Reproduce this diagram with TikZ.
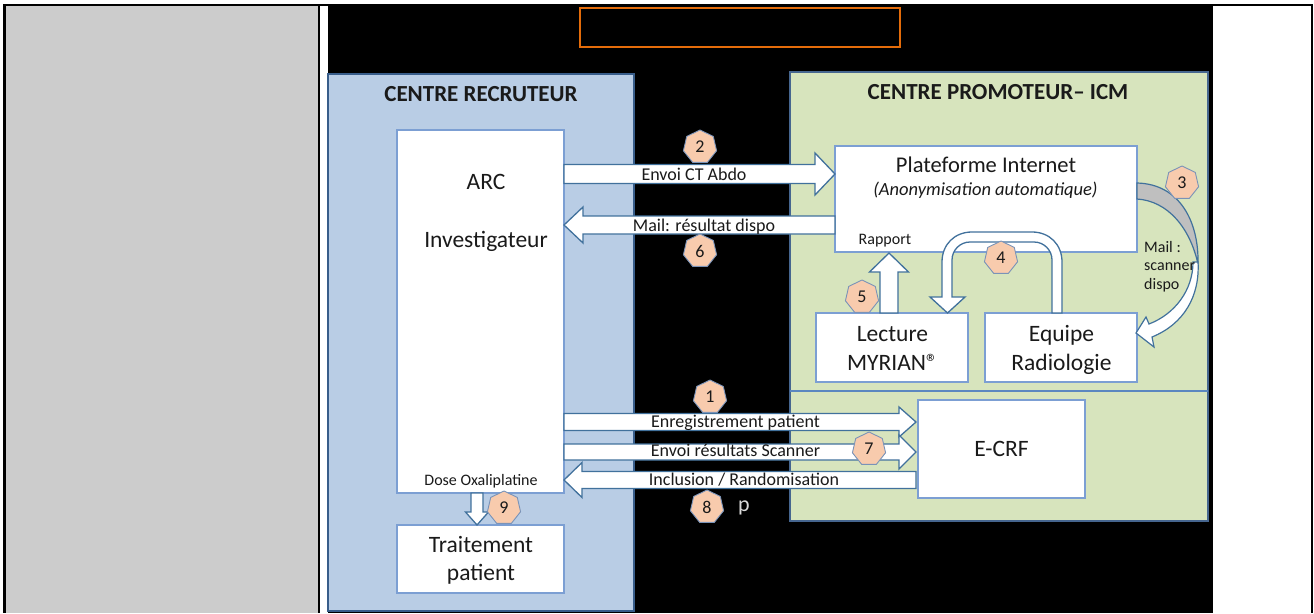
\documentclass[tikz,border=0pt]{standalone}
\usepackage{fontspec}
\setmainfont{Carlito}
\usetikzlibrary{shapes.geometric,calc}
\definecolor{cellgrey}{HTML}{CCCCCC}
\definecolor{peach}{HTML}{F8CBAD}
\definecolor{badgeborder}{HTML}{7A93B8}
\definecolor{arrowblue}{HTML}{41719C}
\definecolor{boxblue}{HTML}{7C9FD3}
\definecolor{bluefill}{HTML}{B9CDE5}
\definecolor{blueborder}{HTML}{385D8A}
\definecolor{greenfill}{HTML}{D7E4BD}
\definecolor{greenborder}{HTML}{46668F}
\definecolor{divline}{HTML}{5B87C0}
\definecolor{orangeline}{HTML}{E46C0A}
\definecolor{txt}{HTML}{1A1A1A}
\definecolor{bandgrey}{HTML}{BFBFBF}
\newcommand{\fs}[1]{\fontsize{#1}{#1}\selectfont}
% horizontal block arrow: #1 start, #2 tip, #3 half shaft, #4 half head, #5 head length (negative = pointing left)
\newcommand{\blockH}[5]{%
  \draw[blk] let \p1=(#1), \p2=(#2) in
    (\x1,{\y1+(#3)*1pt}) -- ({\x2-(#5)*1pt},{\y1+(#3)*1pt}) -- ({\x2-(#5)*1pt},{\y1+(#4)*1pt})
    -- (\x2,\y1) -- ({\x2-(#5)*1pt},{\y1-(#4)*1pt}) -- ({\x2-(#5)*1pt},{\y1-(#3)*1pt})
    -- (\x1,{\y1-(#3)*1pt}) -- cycle;}
% vertical block arrow: #5 head length in canvas units (positive = pointing up)
\newcommand{\blockV}[5]{%
  \draw[blk] let \p1=(#1), \p2=(#2) in
    ({\x1+(#3)*1pt},\y1) -- ({\x1+(#3)*1pt},{\y2-(#5)*1pt}) -- ({\x1+(#4)*1pt},{\y2-(#5)*1pt})
    -- (\x1,\y2) -- ({\x1-(#4)*1pt},{\y2-(#5)*1pt}) -- ({\x1-(#3)*1pt},{\y2-(#5)*1pt})
    -- ({\x1-(#3)*1pt},\y1) -- cycle;}
\tikzset{
  blk/.style={draw=arrowblue, fill=white, line width=1.3pt, line join=miter},
  wbox/.style={draw=boxblue, fill=white, line width=1.2pt, inner sep=0pt, outer sep=0pt, anchor=north west},
  panel/.style={inner sep=0pt, outer sep=0pt, anchor=north west},
  badge/.style={regular polygon, regular polygon sides=7, minimum size=34pt, inner sep=0pt,
    fill=peach, draw=badgeborder, line width=0.9pt, font=\fs{18}, text=txt},
  lbl/.style={inner sep=0pt, text=txt, anchor=base},
  big/.style={lbl, font=\fs{23.5}},
  arl/.style={lbl, font=\fs{18}},
  sml/.style={lbl, font=\fs{16}},
}
\begin{document}
\begin{tikzpicture}[x=1pt,y=-1pt]
\useasboundingbox (0,0) rectangle (1314,613);
% table background
\fill[white] (0,0) rectangle (1314,613);
\node[panel, fill=cellgrey, minimum width=312pt, minimum height=607pt] (greycell) at (6,6) {};
\fill[black] (3,4) rectangle (1313,6);
\fill[black] (3,4) rectangle (6,613);
\fill[black] (318,4) rectangle (320,613);
\fill[black] (1311,4) rectangle (1313,613);
\node[panel, fill=black, minimum width=885pt, minimum height=607pt] (scene) at (328,6) {};
\node[panel, draw=orangeline, line width=2.5pt, minimum width=320pt, minimum height=39pt] (titlebox) at (580,8) {};
% panels
\node[panel, fill=bluefill, draw=blueborder, line width=1.5pt, minimum width=306pt, minimum height=537pt] (recr) at (328,74) {};
\node[panel, fill=greenfill, draw=greenborder, line width=1.5pt, minimum width=418pt, minimum height=449pt] (prom) at (790,72) {};
\draw[divline, line width=1.5pt] (prom.west |- 0,391) coordinate (divl) -- (prom.east |- 0,391) coordinate (divr);
\node[lbl, font=\bfseries\fs{23}] (trecr) at (481,101.5) {CENTRE RECRUTEUR};
\node[lbl, font=\bfseries\fs{23}] (tprom) at (998,99.5) {CENTRE PROMOTEUR– ICM};
% boxes
\node[wbox, minimum width=167pt, minimum height=363pt] (arc) at (397,130) {};
\node[wbox, minimum width=167pt, minimum height=68pt] (trait) at (397,525) {};
\node[wbox, minimum width=302pt, minimum height=106pt] (plat) at (835,146) {};
\node[wbox, minimum width=152pt, minimum height=69pt] (lect) at (816,313) {};
\node[wbox, minimum width=152pt, minimum height=69pt] (equi) at (985,313) {};
\node[wbox, minimum width=167pt, minimum height=98pt] (ecrf) at (918,400) {};
% box texts
\node[big] (tarc) at (486,189.5) {ARC};
\node[big] (tinv) at (486,247) {Investigateur};
\node[sml] (tdose) at (481,485) {Dose Oxaliplatine};
\node[big] (ttrait1) at (481,552) {Traitement};
\node[big] (ttrait2) at (481,580.5) {patient};
\node[lbl, font=\fs{22.5}] (tplat1) at (986,172.5) {Plateforme Internet};
\node[lbl, font=\itshape\fs{18.5}] (tplat2) at (985.5,195.5) {(Anonymisation automatique)};
\node[sml] (trap) at (885,244) {Rapport};
\node[big] (tlect1) at (892.5,341) {Lecture};
\node[big] (tlect2) at (892.5,370) {MYRIAN®};
\node[big] (tequi1) at (1061.5,341) {Equipe};
\node[big] (tequi2) at (1061.5,370) {Radiologie};
\node[big] (tecrf) at (1001.5,456.5) {E-CRF};
% horizontal arrows
\coordinate (a2s) at (arc.east |- 0,174);  \coordinate (a2e) at (plat.west |- 0,174);
\blockH{a2s}{a2e}{9.5}{21}{20}
\coordinate (a6s) at (plat.west |- 0,225); \coordinate (a6e) at (arc.east |- 0,225);
\blockH{a6s}{a6e}{9}{18}{-19}
\coordinate (a1s) at (arc.east |- 0,422);  \coordinate (a1e) at (916,422);
\blockH{a1s}{a1e}{8.5}{15}{17}
\coordinate (a7s) at (arc.east |- 0,452);  \coordinate (a7e) at (916,452);
\blockH{a7s}{a7e}{8}{17}{17}
\coordinate (a8s) at (916,480); \coordinate (a8e) at (arc.east |- 0,480);
\blockH{a8s}{a8e}{8.5}{17.5}{-18}
% vertical arrows
\coordinate (a5s) at (889,313); \coordinate (a5e) at (889,253);
\blockV{a5s}{a5e}{9}{19.5}{19}
\coordinate (a9s) at (477,493); \coordinate (a9e) at (477,525);
\blockV{a9s}{a9e}{6}{11.5}{-13}
% U arrow (4) from Equipe to Lecture
\draw[blk] (1052,313) -- (1052,260) .. controls (1052,250.1) and (1043.9,242) .. (1034,242)
  -- (970,242) .. controls (960.1,242) and (952,250.1) .. (952,260) -- (952,297)
  -- (965,297) -- (947.5,313) -- (930,297) -- (942,297) -- (942,262)
  .. controls (942,244.5) and (954.5,232) .. (972,232) -- (1032,232)
  .. controls (1049.5,232) and (1062,244.5) .. (1062,262) -- (1062,313) -- cycle;
% curved arrow (3) from Plateforme to Equipe
\draw[draw=arrowblue, fill=bandgrey, line width=1.2pt] (1137,183) .. controls (1180,184) and (1199,222) .. (1198,264)
  .. controls (1190,228) and (1168,201) .. (1137,199) -- cycle;
\draw[blk, line width=1.2pt] (1193,262) .. controls (1193,290) and (1175,314) .. (1149,324) -- (1146,317)
  -- (1136,333) -- (1154,347) -- (1152,337) .. controls (1184,324) and (1200,296) .. (1198,262) -- cycle;
% arrow labels
\node[arl] (l2) at (694,180) {Envoi CT Abdo};
\node[arl] (l6) at (704,231) {Mail: résultat dispo};
\node[arl] (l1) at (735.5,427.5) {Enregistrement patient};
\node[arl] (l7) at (735.5,456.5) {Envoi résultats Scanner};
\node[arl] (l8) at (744,485) {Inclusion / Randomisation};
\node[sml, anchor=base west] (lm1) at (1144,252) {Mail :};
\node[sml, anchor=base west] (lm2) at (1144,270.5) {scanner};
\node[sml, anchor=base west] (lm3) at (1144,289) {dispo};
\node[lbl, font=\fs{22}, text=white!85!black] (pp) at (744,511) {p};
% badges
\node[badge] (b1) at (710,397) {1};
\node[badge] (b2) at (700,147) {2};
\node[badge] (b3) at (1182,183) {3};
\node[badge] (b4) at (1001,258) {4};
\node[badge] (b5) at (862,297) {5};
\node[badge] (b6) at (700,251) {6};
\node[badge] (b7) at (869,449) {7};
\node[badge] (b8) at (707,507) {8};
\node[badge] (b9) at (504,508) {9};
\end{tikzpicture}
\end{document}
